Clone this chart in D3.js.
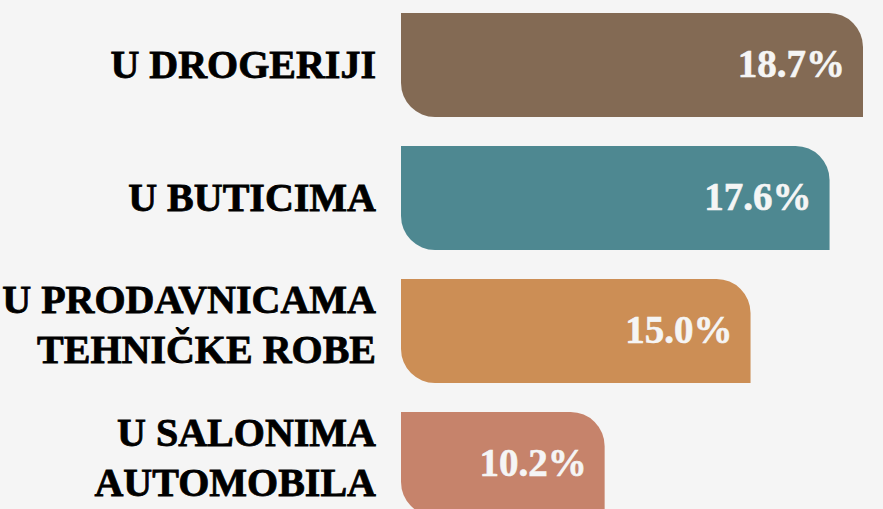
<!DOCTYPE html>
<html>
<head>
<meta charset="utf-8">
<script src="https://cdn.jsdelivr.net/npm/d3@7"></script>
<style>
  html, body { margin: 0; padding: 0; background: #f5f5f5; }
  svg { display: block; }
</style>
</head>
<body>
<svg width="883" height="509"></svg>
<script>
// podaci
const categories = ["U DROGERIJI", "U BUTICIMA", "U PRODAVNICAMA TEHNIČKE ROBE", "U SALONIMA AUTOMOBILA"];
const labelLines = [["U DROGERIJI"], ["U BUTICIMA"], ["U PRODAVNICAMA", "TEHNIČKE ROBE"], ["U SALONIMA", "AUTOMOBILA"]];
const values = [18.7, 17.6, 15.0, 10.2];
const colors = ["#836a54", "#4e8891", "#cc8e55", "#c6836b"];

const svg = d3.select("svg");
const attr_area = { barX: 401, labelX: 376, top: 13, bottom: 516, r: 34 };

// skale
const scaleY = d3.scaleBand()
   .domain(categories)
   .range([attr_area.top, attr_area.bottom])
   .paddingInner(0.218)
   .paddingOuter(0);

const scaleX = d3.scaleLinear()
   .domain([3.5, 18.7])
   .range([0, 462]);

const data = categories.map((c, i) => ({ cat: c, lines: labelLines[i], value: values[i], color: colors[i] }));

// oblik trake: zaobljen gornji desni i donji levi ugao
function barPath(d) {
   const x0 = attr_area.barX, x1 = attr_area.barX + scaleX(d.value);
   const y0 = scaleY(d.cat), y1 = y0 + scaleY.bandwidth();
   const r = attr_area.r;
   return `M${x0},${y0} H${x1 - r} A${r},${r} 0 0 1 ${x1},${y0 + r} V${y1} H${x0 + r} A${r},${r} 0 0 1 ${x0},${y1 - r} Z`;
}

svg.selectAll(".bar")
   .data(data)
   .enter()
   .append("path")
   .attr("class", "bar")
   .attr("d", barPath)
   .attr("fill", d => d.color);

// vrednosti u trakama
svg.selectAll(".val")
   .data(data)
   .enter()
   .append("text")
   .attr("class", "val")
   .attr("x", d => attr_area.barX + scaleX(d.value) - 18)
   .attr("y", d => scaleY(d.cat) + scaleY.bandwidth() / 2 + 12)
   .attr("text-anchor", "end")
   .style("font-family", "'Liberation Serif', serif")
   .style("font-weight", "bold")
   .style("font-size", "39px")
   .style("fill", "#f5f5f5")
   .style("stroke", "#f5f5f5")
   .style("stroke-width", 0.6)
   .text(d => d.value.toFixed(1) + "%");

// nazivi kategorija
const labels = svg.selectAll(".lbl")
   .data(data)
   .enter()
   .append("text")
   .attr("class", "lbl")
   .attr("text-anchor", "end")
   .style("font-family", "'Liberation Serif', serif")
   .style("font-weight", "bold")
   .style("font-size", "40px")
   .style("fill", "#000")
   .style("stroke", "#000")
   .style("stroke-width", 0.8);

labels.selectAll("tspan")
   .data(d => d.lines.map((t, i) => ({ t, i, n: d.lines.length, c: scaleY(d.cat) + scaleY.bandwidth() / 2 })))
   .enter()
   .append("tspan")
   .attr("x", attr_area.labelX)
   .attr("y", d => d.n === 1 ? d.c + 13 : d.c - 18 + d.i * 50)
   .text(d => d.t);
</script>
</body>
</html>
